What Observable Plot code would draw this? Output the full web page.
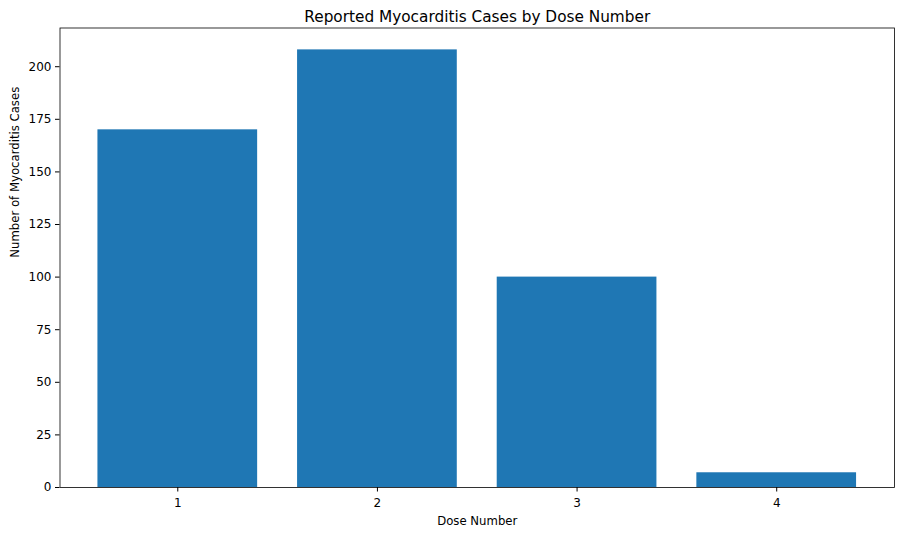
<!DOCTYPE html>
<html>
<head>
<meta charset="utf-8">
<script src="https://cdn.jsdelivr.net/npm/d3@7"></script>
<script src="https://cdn.jsdelivr.net/npm/@observablehq/plot@0.6"></script>
<style>
  body { margin: 0; background: #fff; }
  svg { font-family: "DejaVu Sans", sans-serif; }
</style>
</head>
<body>
<div id="chart"></div>
<script>
const doses = [1, 2, 3, 4];
const cases = [170, 208, 100, 7];
const yTicks = [0, 25, 50, 75, 100, 125, 150, 175, 200];
const title = "Reported Myocarditis Cases by Dose Number";
const xLabel = "Dose Number";
const yLabel = "Number of Myocarditis Cases";

const data = doses.map((d, i) => ({dose: d, cases: cases[i]}));
const barHalf = 0.4;
const yMax = d3.max(cases) * 1.05;

const chart = Plot.plot({
  width: 904,
  height: 536,
  marginLeft: 59.5,
  marginRight: 10,
  marginTop: 27.5,
  marginBottom: 49,
  style: {fontFamily: "DejaVu Sans, sans-serif", fontSize: "12px", color: "#000", background: "#fff"},
  x: {domain: [0.41, 4.59]},
  y: {domain: [0, yMax]},
  marks: [
    Plot.rectY(data, {x1: d => d.dose - barHalf, x2: d => d.dose + barHalf, y: "cases", fill: "#1f77b4"}),
    Plot.frame({stroke: "#000", strokeWidth: 0.8}),
    Plot.axisX({ticks: doses, tickFormat: d3.format("d"), tickSize: 4.5, tickPadding: 6, label: null, fontSize: 12}),
    Plot.axisY({ticks: yTicks, tickFormat: d3.format("d"), tickSize: 4.5, tickPadding: 4, label: null, fontSize: 12}),
    Plot.text([xLabel], {frameAnchor: "bottom", lineAnchor: "bottom", dy: 37.5, fontSize: 11.7, fill: "#000"}),
    Plot.text([yLabel], {frameAnchor: "left", dx: -44.5, rotate: -90, fontSize: 11.7, fill: "#000"}),
    Plot.text([title], {frameAnchor: "top", lineAnchor: "bottom", dy: -6, fontSize: 15.3, fill: "#000"})
  ]
});
document.getElementById("chart").appendChild(chart);
</script>
</body>
</html>
